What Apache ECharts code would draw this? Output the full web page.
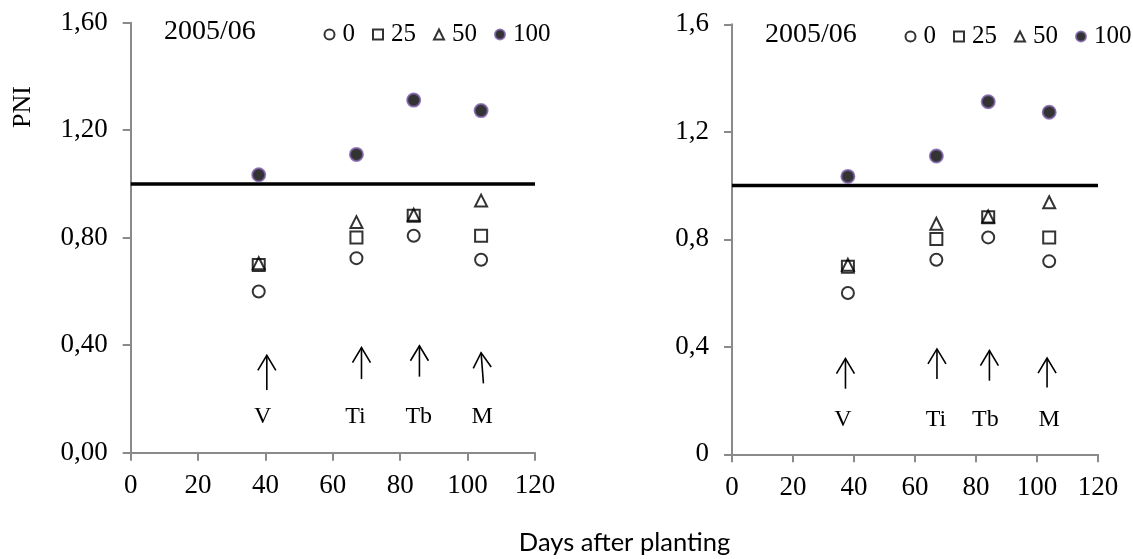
<!DOCTYPE html>
<html>
<head>
<meta charset="utf-8">
<script src="https://cdn.jsdelivr.net/npm/echarts@6/dist/echarts.min.js"></script>
<style>
  html, body { margin: 0; padding: 0; background: #fff; }
  #chart { width: 1133px; height: 559px; }
</style>
</head>
<body>
<div id="chart"></div>
<script>
// Sampling dates (days after planting) and PNI per N rate
const days = [38, 67, 84, 104];
const pni0 = [0.600, 0.724, 0.807, 0.718];
const pni25 = [0.698, 0.801, 0.882, 0.807];
const pni50 = [0.705, 0.858, 0.885, 0.938];
const pni100 = [1.034, 1.110, 1.312, 1.273];

// Critical PNI threshold
const threshold = 1.0;

// Growth stage markers: [day start, PNI start, day end, PNI end]
const stageNames = ['V', 'Ti', 'Tb', 'M'];
const stageArrowsLeft = [[40.4, 0.233, 40.4, 0.362], [68.5, 0.274, 68.5, 0.391], [85.7, 0.283, 85.7, 0.398], [104.7, 0.258, 104.0, 0.372]];
const stageArrowsRight = [[37.2, 0.244, 37.2, 0.356], [67.2, 0.280, 67.2, 0.392], [84.4, 0.274, 84.4, 0.386], [103.3, 0.249, 103.3, 0.358]];
const stageLabelsLeft = [[39.2, 0.134], [66.7, 0.134], [85.5, 0.134], [104.3, 0.134]];
const stageLabelsRight = [[36.4, 0.128], [66.9, 0.128], [83.1, 0.128], [104.0, 0.128]];

// Axis ranges and tick labels
const xTicks = [0, 20, 40, 60, 80, 100, 120];
const yTicksLeft = ['0,00', '0,40', '0,80', '1,20', '1,60'];
const yTicksRight = ['0', '0,4', '0,8', '1,2', '1,6'];
const seasonLabel = '2005/06';
const rateNames = ['0', '25', '50', '100'];

const SERIF = '"Liberation Serif", "Times New Roman", serif';

const chart = echarts.init(document.getElementById('chart'), null, { renderer: 'canvas' });

function pairs(ys) { return days.map((d, i) => [d, ys[i]]); }

function xAxisFor(gridIndex) {
  return {
    gridIndex, type: 'value', min: 0, max: 120, interval: 20,
    axisLine: { show: true, onZero: false, lineStyle: { color: '#8a8a8a', width: 2 } },
    axisTick: { show: true, inside: false, length: 8, lineStyle: { color: '#8a8a8a', width: 2 } },
    axisLabel: { color: '#000', fontFamily: SERIF, fontSize: 27, margin: 20,
      formatter: v => String(xTicks[xTicks.indexOf(v)]) },
    splitLine: { show: false }
  };
}

function yAxisFor(gridIndex, labels) {
  return {
    gridIndex, type: 'value', min: 0, max: 1.6, interval: 0.4,
    axisLine: { show: true, onZero: false, lineStyle: { color: '#8a8a8a', width: 2 } },
    axisTick: { show: true, inside: false, length: 8, lineStyle: { color: '#8a8a8a', width: 2 } },
    axisLabel: { color: '#000', fontFamily: SERIF, fontSize: 27, margin: 23,
      formatter: v => labels[Math.round(v / 0.4)] },
    splitLine: { show: false }
  };
}

const openStyle = { color: 'rgba(0,0,0,0)', borderColor: '#000', borderWidth: 2 };
const filledStyle = { color: '#000', borderColor: '#7a5ea8', borderWidth: 2 };

function pointSeries(gi) {
  return [
    { name: rateNames[0], type: 'scatter', xAxisIndex: gi, yAxisIndex: gi, symbol: 'circle', symbolSize: 12, itemStyle: openStyle, data: pairs(pni0), z: 5 },
    { name: rateNames[1], type: 'scatter', xAxisIndex: gi, yAxisIndex: gi, symbol: 'rect', symbolSize: 12, itemStyle: openStyle, data: pairs(pni25), z: 5 },
    { name: rateNames[2], type: 'scatter', xAxisIndex: gi, yAxisIndex: gi, symbol: 'triangle', symbolSize: 12, itemStyle: openStyle, data: pairs(pni50), z: 6 },
    { name: rateNames[3], type: 'scatter', xAxisIndex: gi, yAxisIndex: gi, symbol: 'circle', symbolSize: 13, itemStyle: filledStyle, data: pairs(pni100), z: 5 }
  ];
}

function thresholdSeries(gi) {
  return {
    type: 'line', xAxisIndex: gi, yAxisIndex: gi, symbol: 'none', silent: true,
    lineStyle: { color: '#000', width: 3.5 },
    data: [[0, threshold], [120, threshold]], z: 3
  };
}

function arrowSeries(gi, arrows) {
  return {
    type: 'custom', xAxisIndex: gi, yAxisIndex: gi, silent: true, clip: false,
    encode: { x: [0, 2], y: [1, 3] },
    data: arrows,
    renderItem: function (params, api) {
      const p0 = api.coord([api.value(0), api.value(1)]);
      const p1 = api.coord([api.value(2), api.value(3)]);
      const ang = Math.atan2(p1[1] - p0[1], p1[0] - p0[0]);
      const hl = 15, hw = 9;
      const bx = p1[0] - hl * Math.cos(ang), by = p1[1] - hl * Math.sin(ang);
      const nx = -Math.sin(ang), ny = Math.cos(ang);
      return {
        type: 'group',
        children: [
          { type: 'line', shape: { x1: p0[0], y1: p0[1], x2: p1[0], y2: p1[1] },
            style: { stroke: '#000', lineWidth: 1.6 } },
          { type: 'polyline', shape: { points: [[bx + nx * hw, by + ny * hw], [p1[0], p1[1]], [bx - nx * hw, by - ny * hw]] },
            style: { stroke: '#000', lineWidth: 1.6, fill: null } }
        ]
      };
    }
  };
}

function stageLabelSeries(gi, positions) {
  return {
    type: 'custom', xAxisIndex: gi, yAxisIndex: gi, silent: true, clip: false,
    data: positions,
    renderItem: function (params, api) {
      const p = api.coord([api.value(0), api.value(1)]);
      return {
        type: 'text',
        style: { text: stageNames[params.dataIndex], x: p[0], y: p[1], align: 'center', verticalAlign: 'middle',
          fill: '#000', font: '24px ' + SERIF }
      };
    }
  };
}

function legendFor(left, top) {
  return {
    left, top, orient: 'horizontal', padding: 0, itemGap: 17, itemWidth: 10, itemHeight: 10,
    selectedMode: false, data: rateNames,
    textStyle: { color: '#000', fontFamily: SERIF, fontSize: 25, padding: [0, 0, 0, 3] }
  };
}

chart.setOption({
  animation: false,
  backgroundColor: '#fff',
  grid: [
    { left: 130.7, top: 22.7, width: 404.3, height: 430 },
    { left: 732, top: 24.3, width: 366, height: 430 }
  ],
  title: [
    { text: seasonLabel, left: 164, top: 18, padding: 0, textStyle: { color: '#000', fontFamily: SERIF, fontSize: 28, fontWeight: 'normal' } },
    { text: seasonLabel, left: 765, top: 21, padding: 0, textStyle: { color: '#000', fontFamily: SERIF, fontSize: 28, fontWeight: 'normal' } }
  ],
  legend: [legendFor(323.5, 22), legendFor(904.5, 24)],
  xAxis: [xAxisFor(0), xAxisFor(1)],
  yAxis: [yAxisFor(0, yTicksLeft), yAxisFor(1, yTicksRight)],
  graphic: [
    { type: 'text', x: 23, y: 107, rotation: Math.PI / 2,
      style: { text: 'PNI', align: 'center', verticalAlign: 'middle', fill: '#000', font: '26px ' + SERIF } },
    { type: 'text', x: 624.5, y: 543,
      style: { text: 'Days after planting', align: 'center', verticalAlign: 'middle', fill: '#000', font: '25.5px Lato, "Open Sans", sans-serif' } }
  ],
  series: [
    thresholdSeries(0), ...pointSeries(0), arrowSeries(0, stageArrowsLeft), stageLabelSeries(0, stageLabelsLeft),
    thresholdSeries(1), ...pointSeries(1), arrowSeries(1, stageArrowsRight), stageLabelSeries(1, stageLabelsRight)
  ]
});
</script>
</body>
</html>
